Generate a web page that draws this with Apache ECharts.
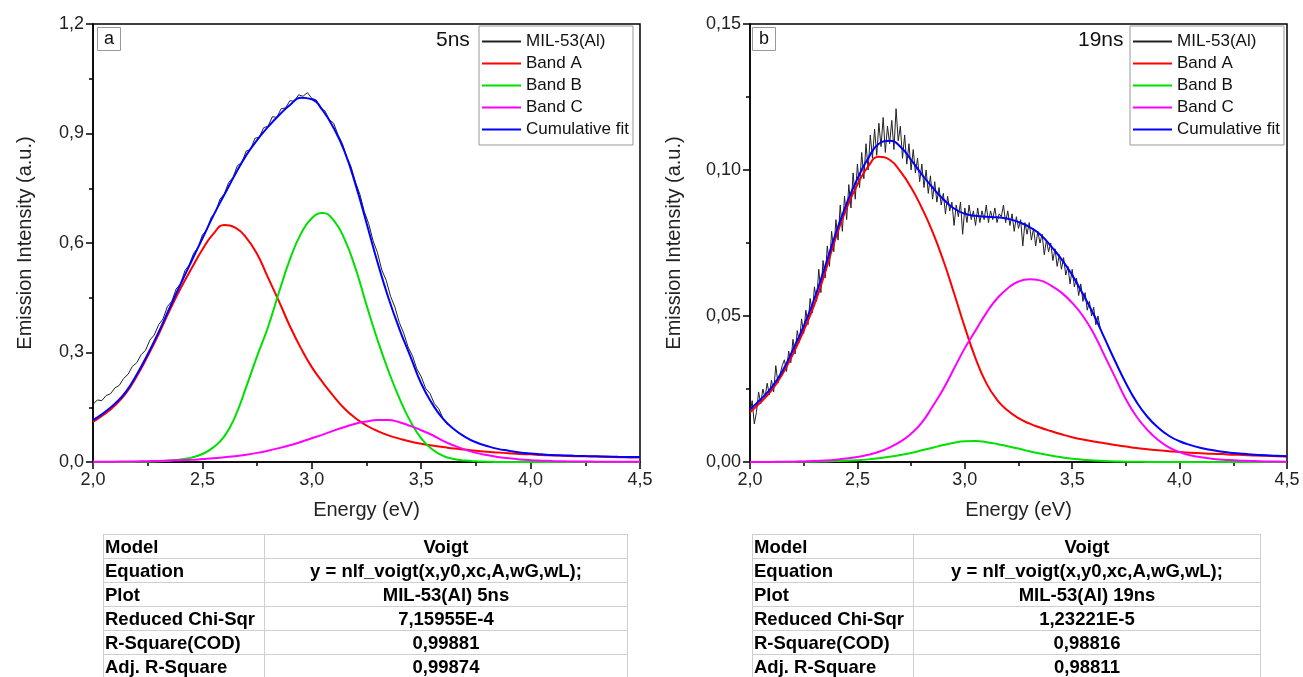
<!DOCTYPE html>
<html>
<head>
<meta charset="utf-8">
<script src="https://cdn.jsdelivr.net/npm/echarts/dist/echarts.min.js"></script>
<style>
  body { margin: 0; background: #fff; }
  #wrap { position: relative; width: 1303px; height: 677px; overflow: hidden; }
  #chart { position: absolute; left: 0; top: 0; width: 1303px; height: 677px; }
  .fit_table {
    position: absolute;
    border-collapse: collapse;
    font-family: "Liberation Sans", Arial, sans-serif;
    font-weight: bold;
    font-size: 18.5px;
    color: #000;
    border: 1px solid #555;
  }
  .fit_table td {
    height: 23px;
    padding: 0 1px;
    border: 1px solid #cfcfcf;
    white-space: nowrap;
    line-height: 23px;
  }
  .fit_table td + td { text-align: center; }
</style>
</head>
<body>
<div id="wrap">
  <div id="chart"></div>
  <table class="fit_table" id="table_a" style="left:103px;top:534px;width:525px;"></table>
  <table class="fit_table" id="table_b" style="left:752px;top:534px;width:509px;"></table>
</div>
<script>
// x grid of the fitted curves (eV)
const fitX = [2.00, 2.05, 2.10, 2.15, 2.20, 2.25, 2.30, 2.35, 2.40, 2.45,
  2.50, 2.55, 2.60, 2.65, 2.70, 2.75, 2.80, 2.85, 2.90, 2.95,
  3.00, 3.05, 3.10, 3.15, 3.20, 3.25, 3.30, 3.35, 3.40, 3.45,
  3.50, 3.55, 3.60, 3.65, 3.70, 3.75, 3.80, 3.85, 3.90, 3.95,
  4.00, 4.05, 4.10, 4.15, 4.20, 4.25, 4.30, 4.35, 4.40, 4.45, 4.50];

// ---- panel a (5ns) ----
const bandA_5ns = [0.110, 0.130, 0.155, 0.188, 0.235, 0.290, 0.350, 0.415, 0.475, 0.530,
  0.582, 0.625, 0.649, 0.642, 0.615, 0.570, 0.505, 0.440, 0.372, 0.312,
  0.260, 0.218, 0.180, 0.146, 0.120, 0.100, 0.085, 0.073, 0.064, 0.056,
  0.050, 0.045, 0.041, 0.037, 0.034, 0.031, 0.028, 0.026, 0.024, 0.022,
  0.021, 0.019, 0.018, 0.017, 0.016, 0.0155, 0.015, 0.014, 0.013, 0.0125, 0.012];
const bandB_5ns = [0, 0, 0, 0, 0.0005, 0.001, 0.002, 0.004, 0.007, 0.012,
  0.022, 0.040, 0.070, 0.125, 0.205, 0.290, 0.370, 0.465, 0.555, 0.625,
  0.668, 0.682, 0.662, 0.610, 0.530, 0.430, 0.335, 0.250, 0.175, 0.112,
  0.065, 0.035, 0.017, 0.008, 0.004, 0.002, 0.001, 0, 0, 0,
  0, 0, 0, 0, 0, 0, 0, 0, 0, 0, 0];
const bandC_5ns = [0.0005, 0.0007, 0.001, 0.0013, 0.0017, 0.0022, 0.003, 0.004, 0.005, 0.006,
  0.008, 0.010, 0.013, 0.016, 0.020, 0.025, 0.031, 0.038, 0.046, 0.055,
  0.065, 0.075, 0.086, 0.096, 0.105, 0.111, 0.115, 0.115, 0.109, 0.099,
  0.087, 0.074, 0.058, 0.045, 0.034, 0.025, 0.019, 0.014, 0.010, 0.007,
  0.005, 0.0037, 0.0027, 0.002, 0.0015, 0.0012, 0.001, 0.0008, 0.0006, 0.0005, 0.0004];
const cumFit_5ns = [0.115, 0.135, 0.160, 0.192, 0.240, 0.295, 0.356, 0.422, 0.487, 0.550,
  0.612, 0.675, 0.732, 0.788, 0.840, 0.882, 0.918, 0.950, 0.978, 0.998,
  0.994, 0.963, 0.915, 0.850, 0.760, 0.655, 0.548, 0.450, 0.365, 0.290,
  0.215, 0.160, 0.118, 0.090, 0.069, 0.054, 0.044, 0.036, 0.031, 0.026,
  0.023, 0.021, 0.019, 0.018, 0.017, 0.0162, 0.0155, 0.0148, 0.0142, 0.0138, 0.0135];

const dataX_5ns = [2.00, 2.02, 2.04, 2.06, 2.08, 2.10, 2.12, 2.14, 2.16, 2.18,
  2.20, 2.22, 2.24, 2.26, 2.28, 2.30, 2.32, 2.34, 2.36, 2.38,
  2.40, 2.42, 2.44, 2.46, 2.48, 2.50, 2.52, 2.54, 2.56, 2.58,
  2.60, 2.62, 2.64, 2.66, 2.68, 2.70, 2.72, 2.74, 2.76, 2.78,
  2.80, 2.82, 2.84, 2.86, 2.88, 2.90, 2.92, 2.94, 2.96, 2.98,
  3.00, 3.02, 3.04, 3.06, 3.08, 3.10, 3.12, 3.14, 3.16, 3.18,
  3.20, 3.22, 3.24, 3.26, 3.28, 3.30, 3.32, 3.34, 3.36, 3.38,
  3.40, 3.42, 3.44, 3.46, 3.48, 3.50, 3.52, 3.54, 3.56, 3.58,
  3.60, 3.62];
const dataY_5ns = [0.158, 0.170, 0.168, 0.182, 0.187, 0.203, 0.210, 0.229, 0.240, 0.262,
  0.272, 0.294, 0.306, 0.334, 0.348, 0.376, 0.392, 0.426, 0.440, 0.474,
  0.488, 0.524, 0.540, 0.572, 0.588, 0.622, 0.636, 0.670, 0.684, 0.720,
  0.734, 0.766, 0.780, 0.812, 0.820, 0.852, 0.856, 0.887, 0.890, 0.916,
  0.920, 0.946, 0.944, 0.968, 0.970, 0.990, 0.988, 1.006, 1.002, 1.012,
  0.996, 0.992, 0.970, 0.962, 0.938, 0.928, 0.896, 0.872, 0.836, 0.808,
  0.766, 0.733, 0.686, 0.653, 0.606, 0.574, 0.526, 0.498, 0.454, 0.424,
  0.382, 0.353, 0.315, 0.291, 0.255, 0.234, 0.202, 0.188, 0.160, 0.146,
  0.119, 0.102];

// ---- panel b (19ns) ----
const bandA_19ns = [0.0170, 0.0205, 0.0245, 0.0300, 0.0370, 0.0450, 0.0540, 0.0650, 0.0770, 0.0870,
  0.0950, 0.1012, 0.1045, 0.1035, 0.0995, 0.0940, 0.0870, 0.0788, 0.0690, 0.0578,
  0.0462, 0.0355, 0.0270, 0.0213, 0.0176, 0.0150, 0.0132, 0.0118, 0.0106, 0.0095,
  0.0085, 0.0077, 0.0070, 0.0064, 0.0058, 0.0053, 0.0048, 0.0044, 0.0040, 0.0037,
  0.0034, 0.0032, 0.0030, 0.0028, 0.0027, 0.0025, 0.0024, 0.0022, 0.0021, 0.0020, 0.0019];
const bandB_19ns = [0, 0, 0, 0, 0, 0.0001, 0.0001, 0.0002, 0.0003, 0.0004,
  0.0006, 0.0009, 0.0013, 0.0018, 0.0024, 0.0031, 0.0040, 0.0049, 0.0058, 0.0066,
  0.0071, 0.0072, 0.0068, 0.0062, 0.0054, 0.0046, 0.0037, 0.0029, 0.0022, 0.0016,
  0.0011, 0.0008, 0.0005, 0.0003, 0.0002, 0.0001, 0.0001, 0, 0, 0,
  0, 0, 0, 0, 0, 0, 0, 0, 0, 0, 0];
const bandC_19ns = [0, 0, 0, 0.0001, 0.0001, 0.0002, 0.0003, 0.0005, 0.0008, 0.0012,
  0.0017, 0.0025, 0.0035, 0.0050, 0.0070, 0.0097, 0.0135, 0.0190, 0.0250, 0.0320,
  0.0390, 0.0450, 0.0510, 0.0560, 0.0595, 0.0618, 0.0626, 0.0622, 0.0605, 0.0580,
  0.0545, 0.0500, 0.0440, 0.0365, 0.0290, 0.0215, 0.0155, 0.0110, 0.0075, 0.0050,
  0.0034, 0.0023, 0.0016, 0.0011, 0.0008, 0.0006, 0.0004, 0.0003, 0.0002, 0.0002, 0.0001];
const cumFit_19ns = [0.0180, 0.0215, 0.0255, 0.0310, 0.0385, 0.0465, 0.0560, 0.0670, 0.0785, 0.0885,
  0.0970, 0.1040, 0.1090, 0.1100, 0.1080, 0.1035, 0.0985, 0.0940, 0.0900, 0.0868,
  0.0850, 0.0843, 0.0840, 0.0838, 0.0833, 0.0822, 0.0805, 0.0780, 0.0740, 0.0695,
  0.0640, 0.0575, 0.0505, 0.0425, 0.0345, 0.0270, 0.0205, 0.0155, 0.0118, 0.0090,
  0.0071, 0.0058, 0.0048, 0.0041, 0.0035, 0.0031, 0.0028, 0.0025, 0.0023, 0.0021, 0.0020];

const dataX_19ns = [2.00, 2.01, 2.02, 2.03, 2.04, 2.05, 2.06, 2.07, 2.08, 2.09,
  2.10, 2.11, 2.12, 2.13, 2.14, 2.15, 2.16, 2.17, 2.18, 2.19,
  2.20, 2.21, 2.22, 2.23, 2.24, 2.25, 2.26, 2.27, 2.28, 2.29,
  2.30, 2.31, 2.32, 2.33, 2.34, 2.35, 2.36, 2.37, 2.38, 2.39,
  2.40, 2.41, 2.42, 2.43, 2.44, 2.45, 2.46, 2.47, 2.48, 2.49,
  2.50, 2.51, 2.52, 2.53, 2.54, 2.55, 2.56, 2.57, 2.58, 2.59,
  2.60, 2.61, 2.62, 2.63, 2.64, 2.65, 2.66, 2.67, 2.68, 2.69,
  2.70, 2.71, 2.72, 2.73, 2.74, 2.75, 2.76, 2.77, 2.78, 2.79,
  2.80, 2.81, 2.82, 2.83, 2.84, 2.85, 2.86, 2.87, 2.88, 2.89,
  2.90, 2.91, 2.92, 2.93, 2.94, 2.95, 2.96, 2.97, 2.98, 2.99,
  3.00, 3.01, 3.02, 3.03, 3.04, 3.05, 3.06, 3.07, 3.08, 3.09,
  3.10, 3.11, 3.12, 3.13, 3.14, 3.15, 3.16, 3.17, 3.18, 3.19,
  3.20, 3.21, 3.22, 3.23, 3.24, 3.25, 3.26, 3.27, 3.28, 3.29,
  3.30, 3.31, 3.32, 3.33, 3.34, 3.35, 3.36, 3.37, 3.38, 3.39,
  3.40, 3.41, 3.42, 3.43, 3.44, 3.45, 3.46, 3.47, 3.48, 3.49,
  3.50, 3.51, 3.52, 3.53, 3.54, 3.55, 3.56, 3.57, 3.58, 3.59,
  3.60, 3.61, 3.62, 3.63];
const dataY_19ns = [0.016, 0.021, 0.013, 0.017, 0.024, 0.020, 0.025, 0.022, 0.027, 0.023,
  0.028, 0.024, 0.033, 0.027, 0.030, 0.033, 0.035, 0.031, 0.038, 0.034,
  0.042, 0.037, 0.045, 0.041, 0.049, 0.044, 0.052, 0.047, 0.056, 0.051,
  0.060, 0.055, 0.066, 0.058, 0.069, 0.063, 0.074, 0.067, 0.079, 0.072,
  0.083, 0.076, 0.088, 0.079, 0.091, 0.083, 0.095, 0.087, 0.099, 0.090,
  0.102, 0.094, 0.106, 0.097, 0.109, 0.100, 0.112, 0.104, 0.114, 0.105,
  0.116, 0.108, 0.118, 0.106, 0.115, 0.109, 0.117, 0.107, 0.121, 0.110,
  0.115, 0.104, 0.112, 0.102, 0.109, 0.100, 0.107, 0.099, 0.104, 0.096,
  0.102, 0.094, 0.100, 0.092, 0.098, 0.090, 0.096, 0.089, 0.094, 0.088,
  0.092, 0.085, 0.091, 0.086, 0.089, 0.081, 0.088, 0.084, 0.089, 0.078,
  0.087, 0.082, 0.088, 0.083, 0.086, 0.081, 0.087, 0.082, 0.086, 0.083,
  0.088, 0.082, 0.086, 0.083, 0.087, 0.082, 0.085, 0.084, 0.088, 0.082,
  0.086, 0.081, 0.085, 0.079, 0.084, 0.080, 0.083, 0.074, 0.082, 0.078,
  0.082, 0.076, 0.080, 0.074, 0.079, 0.075, 0.078, 0.071, 0.076, 0.072,
  0.075, 0.069, 0.073, 0.067, 0.071, 0.066, 0.070, 0.064, 0.067, 0.061,
  0.066, 0.060, 0.063, 0.057, 0.061, 0.055, 0.058, 0.052, 0.055, 0.050,
  0.053, 0.047, 0.050, 0.046];

// legend names / colours
const seriesNames = ['MIL-53(Al)', 'Band A', 'Band B', 'Band C', 'Cumulative fit'];
const seriesColors = ['#222222', '#ff0000', '#00e000', '#ff00ff', '#0000ff'];

// fit report tables
const tableRows = ['Model', 'Equation', 'Plot', 'Reduced Chi-Sqr', 'R-Square(COD)', 'Adj. R-Square'];
const tableValues_5ns = ['Voigt', 'y = nlf_voigt(x,y0,xc,A,wG,wL);', 'MIL-53(Al) 5ns', '7,15955E-4', '0,99881', '0,99874'];
const tableValues_19ns = ['Voigt', 'y = nlf_voigt(x,y0,xc,A,wG,wL);', 'MIL-53(Al) 19ns', '1,23221E-5', '0,98816', '0,98811'];

function pairs(xs, ys) {
  return xs.map(function (x, i) { return [x, ys[i]]; });
}
function comma(digits) {
  return function (v) { return v.toFixed(digits).replace('.', ','); };
}
function fillTable(id, values) {
  let html = '';
  tableRows.forEach(function (r, i) {
    html += '<tr><td style="width:158px">' + r + '</td><td>' + values[i] + '</td></tr>';
  });
  document.getElementById(id).innerHTML = html;
}
fillTable('table_a', tableValues_5ns);
fillTable('table_b', tableValues_19ns);

const FONT = '"Liberation Sans", Arial, sans-serif';

function xAxisFor(idx) {
  return {
    gridIndex: idx,
    type: 'value',
    min: 2, max: 4.5, interval: 0.5,
    name: 'Energy (eV)',
    nameLocation: 'middle',
    nameGap: 38,
    nameTextStyle: { fontFamily: FONT, fontSize: 20, color: '#222' },
    axisLine: { lineStyle: { color: '#000', width: 1.5 } },
    axisTick: { length: 7, lineStyle: { color: '#000', width: 1.5 } },
    minorTick: { show: true, splitNumber: 2, length: 4, lineStyle: { color: '#000', width: 1.5 } },
    splitLine: { show: false },
    axisLabel: { formatter: comma(1), fontFamily: FONT, fontSize: 18, color: '#222', margin: 9 }
  };
}
function yAxisFor(idx, max, interval, digits, gap) {
  return {
    gridIndex: idx,
    type: 'value',
    min: 0, max: max, interval: interval,
    name: 'Emission Intensity (a.u.)',
    nameLocation: 'middle',
    nameGap: gap,
    nameTextStyle: { fontFamily: FONT, fontSize: 20, color: '#222' },
    axisLine: { show: true, lineStyle: { color: '#000', width: 1.5 } },
    axisTick: { show: true, length: 7, lineStyle: { color: '#000', width: 1.5 } },
    minorTick: { show: true, splitNumber: 2, length: 4, lineStyle: { color: '#000', width: 1.5 } },
    splitLine: { show: false },
    axisLabel: { formatter: comma(digits), fontFamily: FONT, fontSize: 18, color: '#222', margin: 9 }
  };
}
function lineSeries(idx, name, color, data, width, smooth) {
  return {
    name: name,
    type: 'line',
    xAxisIndex: idx,
    yAxisIndex: idx,
    data: data,
    showSymbol: false,
    symbol: 'none',
    silent: true,
    smooth: smooth,
    lineStyle: { color: color, width: width },
    itemStyle: { color: color }
  };
}
function legendFor(left) {
  return {
    left: left, top: 26,
    orient: 'vertical',
    data: seriesNames,
    icon: 'rect',
    itemWidth: 39,
    itemHeight: 2,
    itemGap: 5,
    padding: [7, 4, 7, 3],
    backgroundColor: '#fff',
    borderColor: '#999',
    borderWidth: 1,
    selectedMode: false,
    textStyle: { fontFamily: FONT, fontSize: 17, color: '#111', lineHeight: 16 }
  };
}
function panelLabel(x, letter) {
  return {
    type: 'group', left: x, top: 27,
    children: [
      { type: 'rect', shape: { x: 0, y: 0, width: 23, height: 23 }, style: { fill: '#fff', stroke: '#999', lineWidth: 1 } },
      { type: 'text', x: 11.5, y: 12, style: { text: letter, fontFamily: FONT, fontSize: 18, fill: '#111', align: 'center', verticalAlign: 'middle' } }
    ]
  };
}

const myChart = echarts.init(document.getElementById('chart'));
let series = [];
[[0, dataX_5ns, dataY_5ns, [bandA_5ns, bandB_5ns, bandC_5ns, cumFit_5ns]],
 [1, dataX_19ns, dataY_19ns, [bandA_19ns, bandB_19ns, bandC_19ns, cumFit_19ns]]].forEach(function (p) {
  series.push(lineSeries(p[0], seriesNames[0], seriesColors[0], pairs(p[1], p[2]), 1, false));
  p[3].forEach(function (ys, k) {
    series.push(lineSeries(p[0], seriesNames[k + 1], seriesColors[k + 1], pairs(fitX, ys), 2, 0.5));
  });
});

let option = {
  animation: false,
  backgroundColor: '#fff',
  grid: [
    { left: 93, top: 24, width: 547, height: 438, show: true, borderColor: '#000', borderWidth: 1.5, backgroundColor: 'transparent' },
    { left: 750, top: 24, width: 537, height: 438, show: true, borderColor: '#000', borderWidth: 1.5, backgroundColor: 'transparent' }
  ],
  xAxis: [xAxisFor(0), xAxisFor(1)],
  yAxis: [yAxisFor(0, 1.2, 0.3, 1, 58), yAxisFor(1, 0.15, 0.05, 2, 66)],
  legend: [legendFor(479), legendFor(1130)],
  graphic: [
    panelLabel(97, 'a'),
    panelLabel(752, 'b'),
    { type: 'text', left: 436, top: 30, style: { text: '5ns', fontFamily: FONT, fontSize: 21, fill: '#111' } },
    { type: 'text', left: 1078, top: 30, style: { text: '19ns', fontFamily: FONT, fontSize: 21, fill: '#111' } }
  ],
  series: series
};
myChart.setOption(option);
</script>
</body>
</html>
